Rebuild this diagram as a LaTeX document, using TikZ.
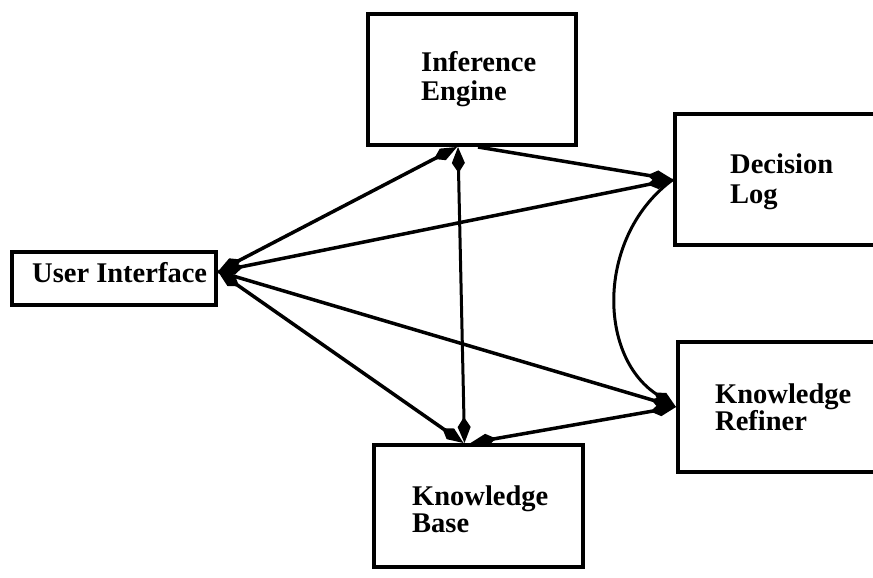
\documentclass[tikz,border=0pt]{standalone}
\usepackage{fontspec}
\setmainfont{Liberation Serif}
\usetikzlibrary{arrows.meta}
\begin{document}
\begin{tikzpicture}[x=1pt,y=-1pt,
  >={Kite[length=26pt,width=13pt,inset=10pt]},
  box/.style={draw,line width=4pt,rectangle,inner sep=0pt},
  lbl/.style={anchor=base west,inner sep=0pt,font=\fontsize{28.5}{28}\selectfont\bfseries},
  conn/.style={line width=3.5pt},
  thinconn/.style={line width=3pt}]
\clip (0,0) rectangle (873,578);

% blocks
\node[box,minimum width=208pt,minimum height=131pt] (ie) at (472,79.5) {};
\node[box,minimum width=225pt,minimum height=131pt] (dl) at (787.5,179.5) {};
\node[box,minimum width=204pt,minimum height=53pt]  (ui) at (114,278.5) {};
\node[box,minimum width=222pt,minimum height=130pt] (kr) at (789,407) {};
\node[box,minimum width=209pt,minimum height=122pt] (kb) at (478.5,506) {};

% labels
\node[lbl] (ie1) at (421,72)  {Inference};
\node[lbl] (ie2) at (421,100) {Engine};
\node[lbl] (dl1) at (730,173) {Decision};
\node[lbl] (dl2) at (730,203) {Log};
\node[lbl] (ui1) at (32,282)  {User Interface};
\node[lbl] (kr1) at (715,403) {Knowledge};
\node[lbl] (kr2) at (715,430) {Refiner};
\node[lbl] (kb1) at (412,505) {Knowledge};
\node[lbl] (kb2) at (412,532) {Base};

% connectors
\draw[conn,<->] ([yshift=7pt]ui.east) -- ([xshift=-15pt]ie.south);
\draw[conn,<->] ([yshift=7pt]ui.east) -- (dl.west);
\draw[conn,->]  ([xshift=6pt]ie.south) -- (dl.west);
\draw[thinconn,<->] ([xshift=-14pt]ie.south) -- ([xshift=-14pt]kb.north);
\draw[conn,<->] ([yshift=7pt]ui.east) -- ([xshift=-15pt]kb.north);
\draw[conn,->]  ([yshift=7pt]ui.east) -- (kr.west);
\draw[conn,<->] ([xshift=-8pt]kb.north) -- (kr.west);
\draw[thinconn,->] (dl.west) .. controls (597,235) and (597,355) .. (kr.west);
\end{tikzpicture}
\end{document}
